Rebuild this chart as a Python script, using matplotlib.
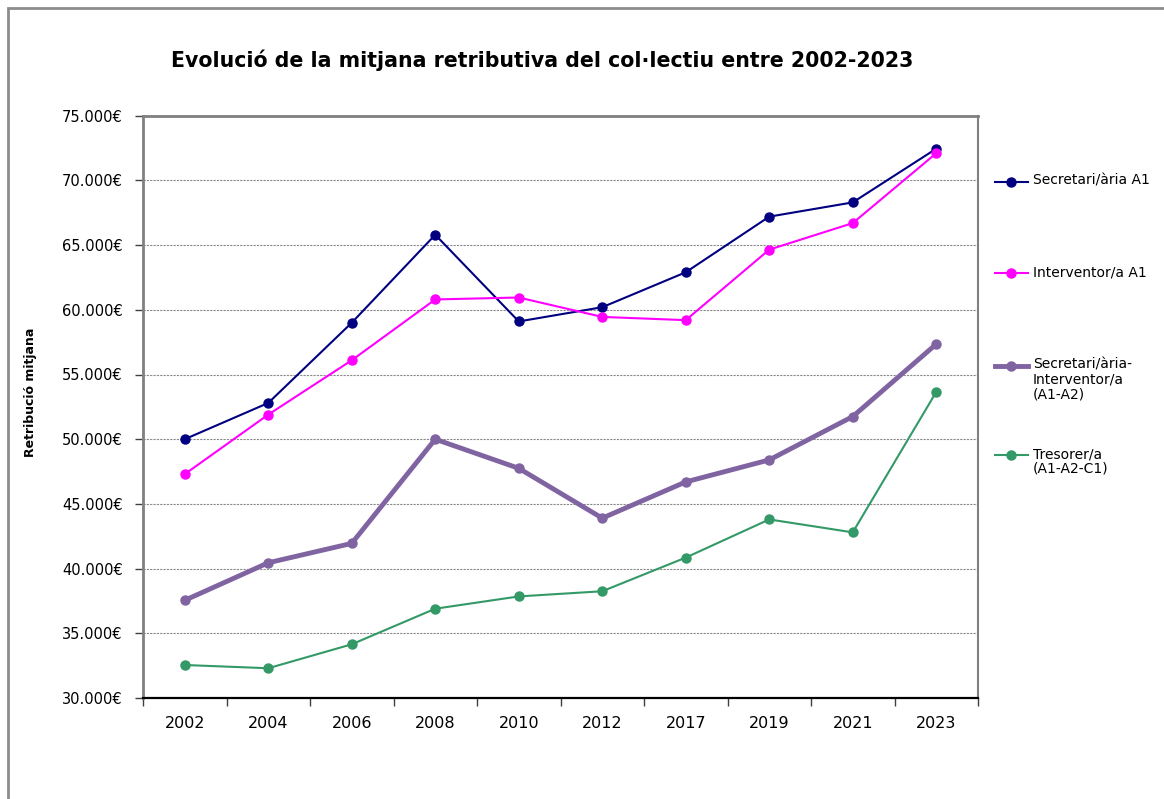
import matplotlib
matplotlib.use("Agg")
import matplotlib.pyplot as plt
from matplotlib.lines import Line2D
from matplotlib.patches import Rectangle
from matplotlib.ticker import FixedLocator, FuncFormatter

plt.rcParams['font.family'] = ['DejaVu Sans']

years = ["2002", "2004", "2006", "2008", "2010", "2012", "2017", "2019", "2021", "2023"]
secretari_a1 = [50000, 52800, 59000, 65800, 59100, 60200, 62900, 67200, 68300, 72450]
interventor_a1 = [47300, 51900, 56100, 60800, 60950, 59450, 59200, 64650, 66700, 72100]
secr_interv = [37550, 40450, 41950, 50000, 47750, 43900, 46700, 48400, 51750, 57350]
tresorer = [32550, 32300, 34150, 36900, 37850, 38250, 40850, 43800, 42800, 53650]

series_labels = ["Secretari/ària A1", "Interventor/a A1",
                 "Secretari/ària-\nInterventor/a\n(A1-A2)", "Tresorer/a\n(A1-A2-C1)"]
colors = ["#000080", "#FF00FF", "#8064A2", "#339966"]
widths = [1.5, 1.5, 3.5, 1.5]

W, H = 1164, 799
fig = plt.figure(figsize=(W / 100, H / 100), dpi=100)
fig.patch.set_facecolor("white")

# outer chart border
fig.add_artist(Rectangle((8 / W, -0.01), 1.02, (H - 8) / H + 0.01, transform=fig.transFigure,
                         fill=False, edgecolor="#8c8c8c", linewidth=2))

ax = fig.add_axes([143 / W, (H - 698) / H, (978 - 143) / W, (698 - 115.7) / H])

x = list(range(len(years)))
all_series = [secretari_a1, interventor_a1, secr_interv, tresorer]
for vals, c, lw in zip(all_series, colors, widths):
    ax.plot(x, vals, color=c, linewidth=lw, marker="o", markersize=6.5,
            markerfacecolor=c, markeredgecolor=c, zorder=3)

ax.set_xlim(-0.5, len(years) - 0.5)
ax.set_ylim(30000, 75000)
ax.set_yticks(range(30000, 75001, 5000))
ax.yaxis.set_major_formatter(FuncFormatter(lambda v, p: f"{int(v):,}€".replace(",", ".")))
ax.grid(axis="y", color="#8a8a8a", linestyle=(0, (2, 1)), linewidth=0.8)
ax.set_axisbelow(True)

ax.xaxis.set_major_locator(FixedLocator([i - 0.5 for i in range(len(years) + 1)]))
ax.xaxis.set_major_formatter(FuncFormatter(lambda v, p: ""))
ax.xaxis.set_minor_locator(FixedLocator(x))
ax.set_xticklabels(years, minor=True)
ax.tick_params(axis="x", which="major", length=6, width=1, color="#404040", direction="out")
ax.tick_params(axis="x", which="minor", length=0, pad=13, labelsize=11.5)
ax.tick_params(axis="y", length=6, width=1, color="#404040", direction="out", pad=8.5, labelsize=10.5)

for s in ["top", "right", "left"]:
    ax.spines[s].set_color("#808080")
ax.spines["left"].set_linewidth(2)
ax.spines["top"].set_linewidth(2)
ax.spines["right"].set_linewidth(1.5)
ax.spines["bottom"].set_color("#000000")
ax.spines["bottom"].set_linewidth(1.6)

ax.set_ylabel("Retribució mitjana", fontsize=9, fontweight="bold")
ax.yaxis.set_label_coords((37 - 143) / 835, 0.525)

fig.text(542 / W, 1 - 60 / H, "Evolució de la mitjana retributiva del col·lectiu entre 2002-2023",
         ha="center", va="center", fontsize=14.8, fontweight="bold")

# legend (manual layout)
leg_y = [182, 273, 366, 455]
for lab, c, lw, yy in zip(series_labels, colors, widths, leg_y):
    yf = 1 - yy / H
    fig.add_artist(Line2D([995 / W, 1028 / W], [yf, yf], transform=fig.transFigure,
                          color=c, linewidth=lw))
    fig.add_artist(Line2D([1011 / W], [yf], transform=fig.transFigure, color=c,
                          marker="o", markersize=6.5, linestyle="none"))
    fig.text(1033 / W, yf + 8 / H, lab, ha="left", va="top", fontsize=10, linespacing=1.05)

fig.savefig("out.png", dpi=100)
